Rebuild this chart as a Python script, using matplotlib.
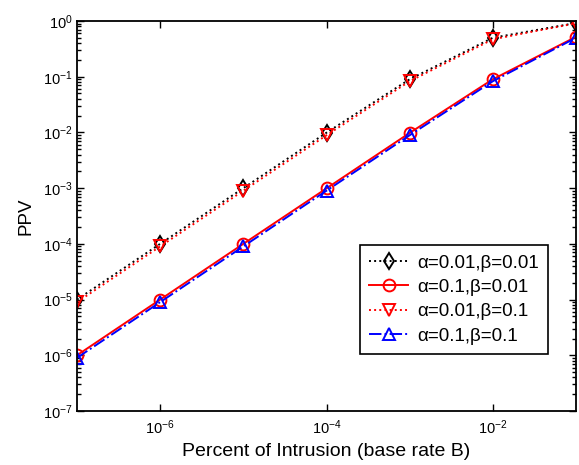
import numpy as np
import matplotlib
matplotlib.use("Agg")
import matplotlib.pyplot as plt
from matplotlib.ticker import LogLocator, NullLocator

plt.rcParams['font.family'] = ['Liberation Sans', 'DejaVu Sans']
plt.rcParams['mathtext.fontset'] = 'custom'
plt.rcParams['mathtext.rm'] = 'Liberation Sans'
plt.rcParams['mathtext.it'] = 'Liberation Sans:italic'
plt.rcParams['mathtext.bf'] = 'Liberation Sans:bold'

# base rate B
base_rate = [1e-7, 1e-6, 1e-5, 1e-4, 1e-3, 1e-2, 1e-1]

# PPV
ppv_a001_b001 = [1.0e-5, 1.0e-4, 1.0e-3, 9.9e-3, 0.090, 0.50, 0.92]
ppv_a01_b001 = [1.0e-6, 1.0e-5, 1.0e-4, 9.9e-4, 9.8e-3, 0.090, 0.52]
ppv_a001_b01 = [9.0e-6, 9.0e-5, 9.0e-4, 8.9e-3, 0.083, 0.47, 0.91]
ppv_a01_b01 = [9.0e-7, 9.0e-6, 9.0e-5, 9.0e-4, 8.9e-3, 0.083, 0.50]

labels = [u'\u03b1=0.01,\u03b2=0.01', u'\u03b1=0.1,\u03b2=0.01',
          u'\u03b1=0.01,\u03b2=0.1', u'\u03b1=0.1,\u03b2=0.1']

xticks = [1e-6, 1e-4, 1e-2]
yticks = [1e-7, 1e-6, 1e-5, 1e-4, 1e-3, 1e-2, 1e-1, 1e0]

fig = plt.figure(figsize=(5.79, 4.65), dpi=100)
ax = fig.add_axes([77/579, 1-411/465, 499/579, 390/465])

ms = 8.5
ax.loglog(base_rate, ppv_a001_b001, color='k', ls=':', marker='d', ms=ms,
          mfc='none', mew=1.4, lw=1.4, label=labels[0])
ax.loglog(base_rate, ppv_a01_b001, color='r', ls='-', marker='o', ms=ms,
          mfc='none', mew=1.4, lw=1.4, label=labels[1])
ax.loglog(base_rate, ppv_a001_b01, color='r', ls=':', marker='v', ms=ms,
          mfc='none', mew=1.4, lw=1.4, label=labels[2])
ax.loglog(base_rate, ppv_a01_b01, color='b', ls='-.', marker='^', ms=ms,
          mfc='none', mew=1.4, lw=1.4, label=labels[3])

ax.set_xlim(1e-7, 1e-1)
ax.set_ylim(1e-7, 1e0)
ax.set_xticks(xticks)
ax.xaxis.set_minor_locator(NullLocator())
ax.set_yticks(yticks)
ax.yaxis.set_minor_locator(LogLocator(base=10, subs=np.arange(2, 10), numticks=20))

ax.tick_params(which='both', direction='in', top=True, right=True,
               labelsize=10.5, width=1)
ax.tick_params(which='major', length=5)
ax.tick_params(which='minor', length=3)
ax.tick_params(axis='x', pad=5)
ax.tick_params(axis='y', pad=3)
for sp in ax.spines.values():
    sp.set_linewidth(1.3)

ax.set_xlabel('Percent of Intrusion (base rate B)', fontsize=14, labelpad=5)
ax.set_ylabel('PPV', fontsize=13.5, labelpad=6)

leg = ax.legend(loc='upper right', bbox_to_anchor=(0.944, 0.4256),
                borderaxespad=0, fontsize=13.5, fancybox=False,
                edgecolor='k', framealpha=1, handlelength=2.1,
                labelspacing=0.39, borderpad=0.5, handletextpad=0.45)
leg.get_frame().set_linewidth(1.2)

fig.savefig('out.png', dpi=100)
